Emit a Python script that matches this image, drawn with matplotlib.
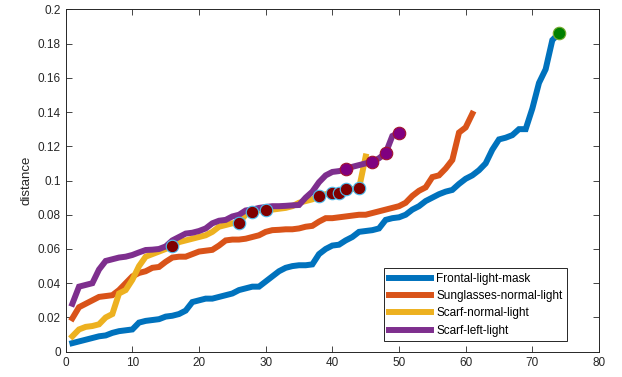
import matplotlib.pyplot as plt
from matplotlib.ticker import FormatStrFormatter
import numpy as np

plt.rcParams['font.family'] = ['Liberation Sans', 'DejaVu Sans']

# sorted distances for each test condition
frontal_light_mask = [
    0.005, 0.006, 0.007, 0.008, 0.009, 0.0095, 0.011, 0.012, 0.0125, 0.013,
    0.017, 0.018, 0.0185, 0.019, 0.0205, 0.021, 0.022, 0.024, 0.029, 0.030,
    0.031, 0.031, 0.032, 0.033, 0.034, 0.036, 0.037, 0.038, 0.038, 0.041,
    0.044, 0.047, 0.049, 0.050, 0.0505, 0.0505, 0.051, 0.057, 0.060, 0.062,
    0.0625, 0.065, 0.067, 0.070, 0.0705, 0.071, 0.072, 0.077, 0.078, 0.0785,
    0.080, 0.083, 0.085, 0.088, 0.090, 0.092, 0.0935, 0.0945, 0.098, 0.101,
    0.103, 0.106, 0.110, 0.118, 0.124, 0.125, 0.1265, 0.130, 0.130, 0.142,
    0.157, 0.165, 0.182, 0.186]

sunglasses_normal_light = [
    0.0195, 0.026, 0.028, 0.030, 0.032, 0.0325, 0.033, 0.036, 0.040, 0.044,
    0.046, 0.047, 0.049, 0.0495, 0.0525, 0.055, 0.0555, 0.0555, 0.057, 0.0585,
    0.059, 0.0595, 0.062, 0.065, 0.0655, 0.0655, 0.066, 0.067, 0.068, 0.070,
    0.071, 0.0712, 0.0715, 0.0715, 0.072, 0.073, 0.0735, 0.076, 0.078, 0.078,
    0.0785, 0.079, 0.0795, 0.080, 0.080, 0.081, 0.082, 0.083, 0.084, 0.085,
    0.087, 0.091, 0.094, 0.096, 0.102, 0.103, 0.107, 0.112, 0.128, 0.131,
    0.139]

scarf_normal_light = [
    0.009, 0.013, 0.0145, 0.015, 0.016, 0.020, 0.022, 0.034, 0.036, 0.042,
    0.050, 0.0555, 0.057, 0.0585, 0.060, 0.0617, 0.064, 0.065, 0.066, 0.067,
    0.068, 0.070, 0.073, 0.074, 0.075, 0.0754, 0.080, 0.0818, 0.0825, 0.0828,
    0.083, 0.0835, 0.084, 0.085, 0.087, 0.088, 0.089, 0.091, 0.092, 0.0929,
    0.0929, 0.0948, 0.095, 0.0954, 0.114]

scarf_left_light = [
    0.028, 0.038, 0.039, 0.040, 0.048, 0.053, 0.054, 0.055, 0.0555, 0.0565,
    0.058, 0.0594, 0.0596, 0.060, 0.0615, 0.065, 0.067, 0.069, 0.0695, 0.0705,
    0.072, 0.075, 0.0765, 0.077, 0.079, 0.080, 0.0825, 0.083, 0.084, 0.0845,
    0.085, 0.085, 0.0852, 0.0855, 0.0857, 0.090, 0.0935, 0.099, 0.103, 0.105,
    0.1055, 0.1065, 0.108, 0.109, 0.110, 0.111, 0.113, 0.116, 0.126, 0.128]

# highlighted samples (1-based index into the series)
scarf_normal_marked = [16, 26, 28, 30, 38, 40, 41, 42, 44]
scarf_left_marked = [42, 46, 48, 50]

series = [
    ('Frontal-light-mask', frontal_light_mask, '#0072BD'),
    ('Sunglasses-normal-light', sunglasses_normal_light, '#D95319'),
    ('Scarf-normal-light', scarf_normal_light, '#EDB120'),
    ('Scarf-left-light', scarf_left_light, '#7E2F8E'),
]

fig = plt.figure(figsize=(6.22, 3.77), dpi=100)
ax = fig.add_axes([0.1056, 0.0671, 0.8574, 0.9082])

for name, vals, col in series:
    x = np.arange(1, len(vals) + 1)
    ax.plot(x, vals, color=col, linewidth=4.3, label=name, solid_joinstyle='miter')

idx = np.array(scarf_normal_marked)
ax.plot(idx, np.array(scarf_normal_light)[idx - 1], 'o', markersize=9,
        markerfacecolor='#800000', markeredgecolor='#4DBEEE', markeredgewidth=0.8)
idx = np.array(scarf_left_marked)
ax.plot(idx, np.array(scarf_left_light)[idx - 1], 'o', markersize=9,
        markerfacecolor='#800080', markeredgecolor='#A2142F', markeredgewidth=0.8)
ax.plot([len(frontal_light_mask)], [frontal_light_mask[-1]], 'o', markersize=9,
        markerfacecolor='#008000', markeredgecolor='#77AC30', markeredgewidth=0.8)

ax.set_xlim(0, 80)
ax.set_ylim(0, 0.2)
ax.set_xticks(np.arange(0, 81, 10))
ax.set_yticks(np.arange(0, 0.201, 0.02))
ax.yaxis.set_major_formatter(FormatStrFormatter('%g'))
ax.tick_params(direction='in', top=True, right=True, length=4, width=0.6,
               colors='#262626', labelsize=8.5)
for sp in ax.spines.values():
    sp.set_color('#262626')
    sp.set_linewidth(0.7)
ax.set_ylabel('distance', fontsize=9.5, color='#262626', labelpad=4)

leg = ax.legend(loc='lower right', bbox_to_anchor=(0.94, 0.03), borderaxespad=0,
                fancybox=False, edgecolor='#262626', framealpha=1, fontsize=8.5,
                handlelength=3.6, handletextpad=0.4, labelspacing=0.45,
                borderpad=0.4)
leg.get_frame().set_linewidth(0.7)

fig.savefig('out.png', dpi=100)
